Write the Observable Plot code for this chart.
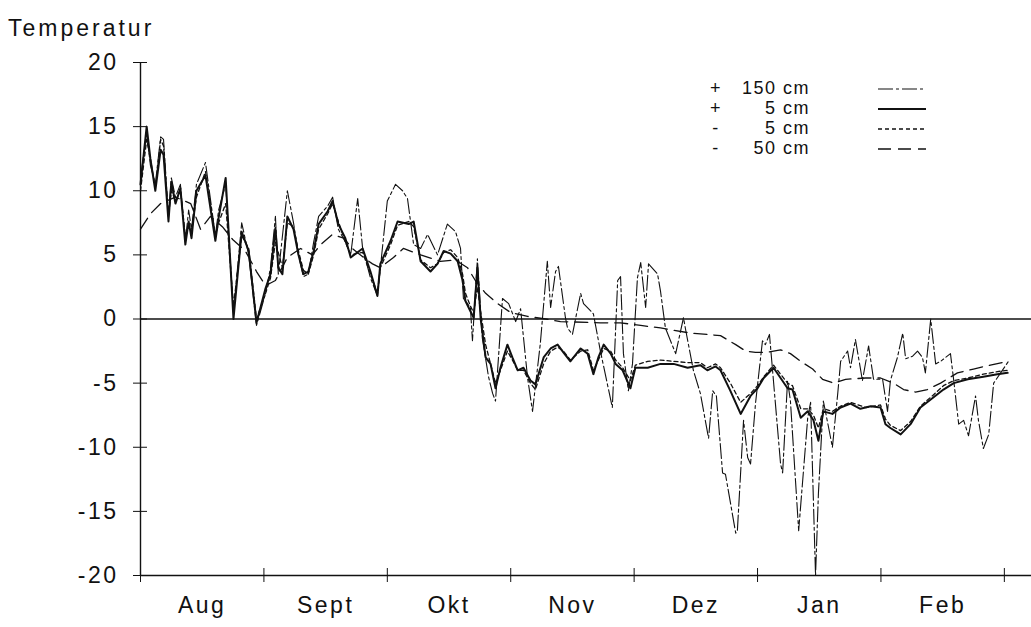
<!DOCTYPE html>
<html><head><meta charset="utf-8">
<script src="https://cdn.jsdelivr.net/npm/d3@7"></script>
<script src="https://cdn.jsdelivr.net/npm/@observablehq/plot@0.6"></script>
<style>
html,body{margin:0;padding:0;background:#fff;}
body{font-family:"Liberation Sans",Arial,Helvetica,sans-serif;color:#111;}
#wrap{position:relative;width:1031px;height:627px;overflow:hidden;}
#title{position:absolute;left:8px;top:15px;font-size:23px;letter-spacing:3px;}
.sign,.lab{position:absolute;height:20px;font-size:18px;line-height:20px;letter-spacing:1.5px;white-space:nowrap;}
.sign{width:18px;text-align:center;}
.lab{width:80px;text-align:right;}
.samp{position:absolute;}
</style></head>
<body><div id="wrap"><div id="title">Temperatur</div></div>
<script>
// time axis: days since 1 Aug on an equal-month grid (30 units per month)
const yTicks = [-20,-15,-10,-5,0,5,10,15,20];
const monthTicks = [0,30,60,90,120,150,180,210];
const monthMid = [15,45,75,105,135,165,195];
const monthLabels = ["Aug","Sept","Okt","Nov","Dez","Jan","Feb"];

const seriesNames = ["150 cm","5 cm","5 cm","50 cm"];
const seriesSigns = ["+","+","-","-"];

// +150 cm (air)
const plus150 = [[0,11.0],[1.5,14.5],[2.4,12.0],[3.6,10.5],[4.9,14.2],[5.6,14.0],[6.8,8.0],[7.5,11.0],[8.5,9.5],[9.7,10.5],[10.9,6.0],[11.7,8.5],[12.4,7.0],[13.6,10.5],[15.8,12.2],[18.2,6.5],[19.0,8.5],[20.7,10.5],[22.6,0.5],[24.6,7.5],[26.3,5.0],[28.2,-0.5],[30.4,2.0],[31.6,4.0],[32.8,8.0],[33.5,3.5],[35.7,10.0],[37.2,7.5],[38.4,5.0],[39.6,3.3],[40.8,3.5],[42.1,6.0],[43.3,8.0],[45.5,8.8],[46.7,9.5],[48.1,7.0],[49.8,6.0],[51.1,5.0],[52.8,9.4],[54.0,5.5],[55.9,3.2],[57.6,1.8],[60.0,9.2],[62.0,10.5],[63.7,10.0],[64.9,9.4],[66.4,5.8],[68.1,5.5],[69.8,6.6],[72.2,5.0],[74.6,7.4],[76.6,6.8],[77.8,5.5],[78.5,1.6],[80.2,0.9],[80.7,-1.7],[81.9,4.7],[83.1,-1.5],[84.6,-4.5],[85.6,-5.8],[86.3,-6.4],[88.0,1.6],[89.5,1.2],[91.2,-0.2],[92.4,0.8],[94.1,-4.6],[95.3,-7.2],[97.2,-1.9],[98.9,4.5],[99.7,0.9],[100.9,3.7],[101.6,4.1],[103.3,0.1],[103.8,-0.7],[105.0,-1.2],[107.0,2.0],[107.7,1.2],[110.1,0.4],[111.8,-2.5],[114.7,-6.9],[116.0,3.0],[116.7,3.3],[117.4,-2.7],[118.6,-5.6],[119.6,-3.5],[120.8,3.2],[121.6,4.4],[122.8,0.9],[123.5,4.3],[125.7,3.5],[126.4,2.2],[127.6,-0.7],[130.1,-2.7],[132.0,0.1],[132.5,-0.8],[134.4,-4.0],[136.1,-5.8],[138.1,-9.3],[139.1,-5.6],[140.0,-6.0],[141.5,-12.0],[142.2,-12.1],[144.7,-16.7],[145.1,-16.5],[146.6,-7.9],[147.6,-10.8],[148.3,-11.3],[149.5,-6.6],[151.2,-1.7],[151.9,-2.0],[152.9,-1.2],[153.6,-3.8],[155.6,-11.3],[156.1,-12.0],[157.3,-4.8],[158.0,-6.4],[160.0,-16.5],[162.2,-7.7],[162.9,-6.5],[164.1,-20.0],[164.8,-13.6],[166.0,-6.4],[167.3,-8.5],[168.2,-10.0],[169.5,-5.8],[170.2,-3.3],[171.9,-2.5],[172.6,-3.8],[173.8,-1.6],[175.5,-4.8],[177.0,-2.1],[178.2,-4.7],[180.4,-4.7],[181.6,-7.2],[182.3,-4.8],[184.0,-3.0],[185.3,-1.1],[186.0,-3.1],[187.7,-2.9],[188.9,-2.5],[190.1,-3.0],[190.8,-4.2],[192.1,0.0],[193.3,-3.5],[194.5,-3.3],[196.9,-2.7],[197.7,-4.8],[198.9,-8.2],[200.1,-7.9],[201.3,-9.1],[203.0,-6.0],[203.7,-7.9],[204.9,-10.1],[206.2,-9.0],[207.4,-5.0],[209.1,-4.2],[211.0,-3.3]];

// +5 cm (air near ground)
const plus5 = [[0,10.5],[1.5,15.0],[2.4,12.5],[3.6,10.0],[4.9,13.2],[5.6,12.8],[6.8,7.6],[7.5,10.7],[8.5,9.0],[9.7,10.2],[10.9,5.8],[11.7,7.6],[12.4,6.3],[13.6,10.0],[15.8,11.2],[18.2,6.1],[19.0,7.9],[20.7,11.0],[22.6,0.0],[24.6,6.8],[26.3,5.3],[28.2,-0.3],[30.4,2.4],[31.6,3.5],[32.8,7.1],[33.5,4.0],[34.5,3.5],[35.7,8.0],[37.2,7.0],[38.4,5.0],[39.6,3.5],[40.8,3.7],[42.1,5.3],[43.3,7.4],[45.5,8.4],[46.7,9.2],[48.1,7.4],[49.8,6.3],[51.1,4.8],[54.0,5.5],[55.9,3.7],[57.6,1.8],[58.3,4.3],[60.8,6.1],[62.5,7.6],[65.2,7.4],[66.4,7.6],[68.1,4.5],[70.5,3.7],[72.2,4.3],[73.7,5.3],[75.4,5.1],[77.1,4.5],[78.3,3.0],[79.0,1.4],[80.2,0.6],[81.0,0.1],[81.9,4.0],[82.7,0.0],[83.9,-3.0],[85.1,-3.5],[86.3,-5.4],[87.5,-3.8],[89.2,-2.0],[90.4,-3.0],[91.7,-4.0],[93.1,-3.8],[94.8,-4.8],[96.0,-5.1],[98.0,-3.0],[99.7,-2.3],[101.4,-2.0],[102.8,-2.6],[104.5,-3.3],[107.0,-2.3],[108.7,-2.7],[110.1,-4.3],[111.3,-3.0],[112.6,-2.0],[114.3,-2.7],[115.5,-3.5],[117.2,-4.0],[119.1,-5.4],[120.3,-3.8],[123.3,-3.8],[126.4,-3.5],[129.6,-3.5],[133.0,-3.8],[136.1,-3.6],[137.8,-4.0],[139.8,-3.7],[141.0,-4.0],[143.4,-5.6],[145.9,-7.4],[148.3,-6.0],[150.0,-5.4],[151.5,-4.6],[153.9,-3.8],[155.6,-4.6],[157.3,-5.4],[158.5,-5.5],[160.5,-7.7],[162.2,-7.2],[163.6,-7.9],[164.8,-9.5],[166.0,-7.2],[168.2,-7.4],[170.2,-6.9],[172.6,-6.6],[175.0,-7.0],[177.5,-6.8],[179.9,-6.9],[181.1,-8.2],[182.3,-8.5],[184.8,-9.0],[187.2,-8.2],[189.6,-6.9],[192.8,-6.1],[195.2,-5.5],[197.7,-5.0],[201.1,-4.7],[204.9,-4.5],[208.3,-4.3],[210.8,-4.2]];

// -5 cm (soil)
const minus5 = [[0,10.0],[1.5,14.0],[2.4,12.5],[3.6,10.2],[4.9,14.0],[5.6,13.5],[6.8,8.0],[7.5,10.0],[8.5,9.2],[9.7,10.0],[10.9,6.5],[11.7,7.2],[12.4,6.8],[13.6,9.5],[15.8,11.5],[18.2,6.5],[19.0,7.5],[20.7,9.0],[22.6,1.0],[24.6,6.5],[26.3,5.5],[28.2,0.0],[30.4,2.0],[31.6,3.2],[32.8,6.0],[34.5,4.0],[35.7,7.5],[37.2,7.2],[38.4,5.3],[39.6,3.8],[40.8,3.5],[42.1,5.0],[43.3,7.0],[45.5,8.2],[46.7,9.0],[48.1,7.6],[49.8,6.0],[51.1,5.0],[54.0,5.2],[55.9,3.5],[57.6,2.0],[58.3,4.0],[60.8,5.8],[62.5,7.3],[65.2,7.6],[66.4,7.2],[68.1,4.6],[70.5,4.0],[72.2,4.3],[73.7,5.2],[75.4,5.4],[77.1,4.8],[78.3,3.5],[79.0,2.0],[80.2,1.0],[81.0,0.5],[81.9,2.5],[82.7,0.5],[83.9,-2.0],[85.1,-3.5],[86.3,-5.0],[87.5,-4.0],[89.2,-2.5],[90.4,-3.2],[91.7,-4.0],[93.1,-4.0],[94.8,-5.0],[96.0,-5.5],[98.0,-3.5],[99.7,-2.5],[101.4,-2.2],[102.8,-2.5],[104.5,-3.2],[107.0,-2.5],[108.7,-2.4],[110.1,-4.0],[111.3,-3.2],[112.6,-2.3],[114.3,-2.5],[115.5,-3.2],[117.2,-3.8],[119.1,-4.8],[120.3,-3.6],[123.3,-3.3],[126.4,-3.2],[129.6,-3.3],[133.0,-3.4],[136.1,-3.4],[137.8,-3.8],[139.8,-3.5],[141.0,-3.8],[143.4,-5.0],[145.9,-6.5],[148.3,-5.8],[150.0,-5.2],[151.5,-4.5],[153.9,-3.6],[155.6,-4.3],[157.3,-5.0],[158.5,-5.2],[160.5,-7.0],[162.2,-7.0],[163.6,-7.5],[164.8,-8.5],[166.0,-7.0],[168.2,-7.2],[170.2,-6.8],[172.6,-6.5],[176.3,-6.9],[179.9,-6.7],[181.1,-7.8],[182.3,-8.3],[184.8,-8.7],[187.2,-8.0],[189.6,-6.8],[192.8,-5.9],[195.2,-5.2],[197.7,-4.8],[201.1,-4.6],[204.9,-4.3],[208.3,-4.1],[210.8,-4.0]];

// -50 cm (soil)
const minus50 = [[0,7.0],[2.4,8.2],[4.9,9.0],[8.5,9.5],[12.2,9.0],[14.6,7.0],[17.0,8.0],[19.9,7.2],[22.4,6.2],[25.5,5.3],[28.2,3.7],[30.4,2.6],[32.8,3.0],[35.7,4.8],[38.9,5.5],[41.8,5.0],[43.8,5.8],[46.7,6.6],[49.4,6.3],[51.5,5.5],[54.2,4.8],[56.4,4.3],[58.3,4.0],[61.5,4.8],[63.9,5.5],[68.1,5.0],[72.9,4.5],[76.6,4.6],[79.5,4.0],[81.4,3.0],[83.9,2.0],[86.8,1.2],[90.0,0.5],[94.1,0.2],[98.5,0.0],[102.1,-0.2],[111.8,-0.3],[116.7,-0.3],[121.6,-0.5],[126.4,-0.7],[133.7,-1.1],[137.8,-1.2],[141.0,-1.3],[144.7,-2.0],[147.1,-2.5],[149.5,-2.6],[152.4,-2.6],[155.6,-2.4],[158.0,-2.7],[160.5,-3.3],[163.4,-3.9],[165.8,-4.7],[168.5,-5.0],[171.4,-4.7],[176.3,-4.6],[179.9,-4.6],[183.1,-5.0],[185.5,-5.5],[188.4,-5.7],[191.3,-5.5],[194.5,-5.0],[198.6,-4.2],[202.5,-3.9],[206.6,-3.6],[211.0,-3.3]];

const seriesData = [plus150, plus5, minus5, minus50];
const seriesDash = ["15,3,3,3", null, "4,3", "13,7"];
const seriesWidth = [1.1, 2.0, 1.3, 1.3];

const ink = "#111";
const fmtY = d => d < 0 ? "-" + (-d) : String(d);

const lineMarks = seriesData.map((data, i) => Plot.line(data, {
  x: d => d[0], y: d => d[1],
  stroke: ink, strokeWidth: seriesWidth[i],
  strokeDasharray: seriesDash[i] ?? undefined,
  strokeLinejoin: "round", curve: "linear"
}));

const chart = Plot.plot({
  width: 1031, height: 627,
  marginLeft: 140, marginRight: 0, marginTop: 62, marginBottom: 52,
  x: {domain: [0, 216.6], axis: null},
  y: {domain: [-20, 20], axis: null},
  style: {background: "white", color: ink, fontFamily: '"Liberation Sans", Arial, sans-serif', overflow: "visible"},
  marks: [
    Plot.ruleY([0], {stroke: ink, strokeWidth: 1.6}),
    Plot.ruleY([-20], {stroke: ink, strokeWidth: 1.6}),
    Plot.ruleX([0], {y1: -20, y2: 20, stroke: ink, strokeWidth: 1.4}),
    Plot.axisY(yTicks, {anchor: "left", tickSize: 14, dx: 7, tickFormat: () => "", label: null, stroke: ink}),
    Plot.axisY(yTicks, {anchor: "left", tickSize: 0, tickPadding: 22, tickFormat: fmtY, label: null, fontSize: 23, fill: ink}),
    Plot.axisX(monthTicks, {anchor: "bottom", tickSize: 14, dy: -7, tickFormat: () => "", label: null, stroke: ink}),
    Plot.axisX(monthMid, {anchor: "bottom", tickSize: 0, tickPadding: 21, tickFormat: d => monthLabels[monthMid.indexOf(d)], label: null, fontSize: 23, fill: ink}),
    ...lineMarks
  ]
});
chart.style.letterSpacing = "2.5px";
const wrap = document.getElementById("wrap");
wrap.insertBefore(chart, wrap.firstChild);

// legend: separate absolutely positioned elements (no nesting)
seriesNames.forEach((name, i) => {
  const top = 78 + i * 20;
  const sign = document.createElement("div");
  sign.className = "sign";
  sign.style.left = "707px";
  sign.style.top = top + "px";
  sign.textContent = seriesSigns[i];
  wrap.appendChild(sign);

  const lab = document.createElement("div");
  lab.className = "lab";
  lab.style.left = "730px";
  lab.style.top = top + "px";
  lab.textContent = name;
  wrap.appendChild(lab);

  const ns = "http://www.w3.org/2000/svg";
  const svg = document.createElementNS(ns, "svg");
  svg.setAttribute("class", "samp");
  svg.setAttribute("width", "50");
  svg.setAttribute("height", "20");
  svg.style.left = "878px";
  svg.style.top = top + "px";
  const ln = document.createElementNS(ns, "line");
  ln.setAttribute("x1", "0"); ln.setAttribute("x2", "48");
  ln.setAttribute("y1", "11"); ln.setAttribute("y2", "11");
  ln.setAttribute("stroke", ink);
  ln.setAttribute("stroke-width", seriesWidth[i]);
  if (seriesDash[i]) ln.setAttribute("stroke-dasharray", seriesDash[i]);
  svg.appendChild(ln);
  wrap.appendChild(svg);
});
</script>
</body></html>
